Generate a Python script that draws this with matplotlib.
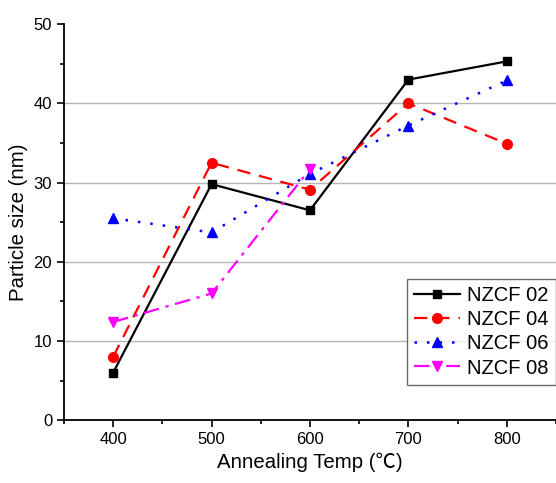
import numpy as np
import matplotlib.pyplot as plt
from matplotlib.ticker import MultipleLocator

plt.rcParams['font.family'] = ['Liberation Sans', 'Noto Sans CJK SC', 'DejaVu Sans']

#Donnees
temps = [400, 500, 600, 700, 800]
nzcf02 = [6.0, 29.8, 26.5, 43.0, 45.3]
nzcf04 = [8.0, 32.5, 29.1, 40.0, 34.9]
nzcf06 = [25.5, 23.7, 31.1, 37.2, 42.9]
temps08 = [400, 500, 600]
nzcf08 = [12.4, 16.0, 31.7]

fig = plt.figure(figsize=(5.56, 4.83), dpi=100)
ax = fig.add_axes([0.115, 0.130, 0.885, 0.820])

ax.plot(temps, nzcf02, color='black', linestyle='-', linewidth=1.6,
        marker='s', markersize=6, label='NZCF 02')
ax.plot(temps, nzcf04, color='red', linestyle=(0, (6, 4)), linewidth=1.6,
        marker='o', markersize=7, label='NZCF 04')
ax.plot(temps, nzcf06, color='blue', linestyle=(0, (1, 4)), linewidth=1.8,
        marker='^', markersize=7, label='NZCF 06')
ax.plot(temps08, nzcf08, color='magenta', linestyle=(0, (7, 3, 1.5, 3)), linewidth=1.6,
        marker='v', markersize=7, label='NZCF 08')

ax.set_xlim(350, 850)
ax.set_ylim(0, 50)
ax.xaxis.set_major_locator(MultipleLocator(100))
ax.xaxis.set_minor_locator(MultipleLocator(50))
ax.yaxis.set_major_locator(MultipleLocator(10))
ax.yaxis.set_minor_locator(MultipleLocator(5))
ax.tick_params(which='major', direction='out', length=5, width=1.2, labelsize=12)
ax.tick_params(which='minor', direction='out', length=3, width=1.2)

for y in [10, 20, 30, 40]:
    ax.axhline(y, color='#b4b4b4', linewidth=1, zorder=0)

ax.spines['top'].set_visible(False)
ax.spines['right'].set_visible(False)
ax.spines['left'].set_linewidth(1.3)
ax.spines['bottom'].set_linewidth(1.3)

ax.set_xlabel('Annealing Temp (℃)', fontsize=14.7)
ax.set_ylabel('Particle size (nm)', fontsize=14.7)

leg = ax.legend(loc='lower right', bbox_to_anchor=(1.0, 0.09), fontsize=14.5,
                frameon=True, fancybox=False, edgecolor='#444444',
                handlelength=2.3, handletextpad=0.35, borderpad=0.35,
                labelspacing=0.25, borderaxespad=0)
leg.get_frame().set_linewidth(1)

fig.savefig('out.png', dpi=100)
